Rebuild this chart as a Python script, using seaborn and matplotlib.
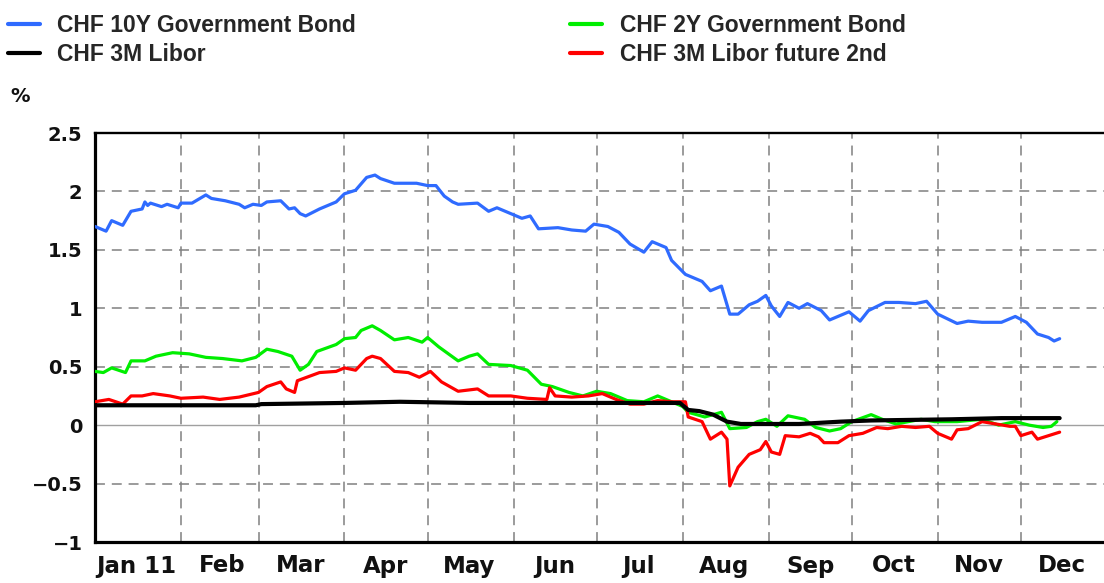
import matplotlib
matplotlib.use("Agg")
import matplotlib.pyplot as plt
import matplotlib.dates as mdates
from matplotlib.lines import Line2D
import numpy as np
import pandas as pd
import seaborn as sns

# ---------------- data ----------------
series_names = ["CHF 10Y Government Bond", "CHF 3M Libor",
                "CHF 2Y Government Bond", "CHF 3M Libor future 2nd"]
series_colors = ["#2f6bff", "#000000", "#00ee00", "#ff0000"]

bond10_dates = ["2011-01-01", "2011-01-05", "2011-01-07", "2011-01-11", "2011-01-14", "2011-01-18",
                "2011-01-19", "2011-01-20", "2011-01-21", "2011-01-25", "2011-01-27", "2011-01-31",
                "2011-02-01", "2011-02-05", "2011-02-10", "2011-02-12", "2011-02-17", "2011-02-22",
                "2011-02-24", "2011-02-27", "2011-03-02", "2011-03-04", "2011-03-09", "2011-03-12",
                "2011-03-14", "2011-03-16", "2011-03-18", "2011-03-23", "2011-03-29", "2011-04-01",
                "2011-04-05", "2011-04-09", "2011-04-12", "2011-04-14", "2011-04-19", "2011-04-27",
                "2011-05-01", "2011-05-04", "2011-05-07", "2011-05-10", "2011-05-12", "2011-05-19",
                "2011-05-23", "2011-05-26", "2011-05-31", "2011-06-04", "2011-06-07", "2011-06-10",
                "2011-06-17", "2011-06-22", "2011-06-27", "2011-06-30", "2011-07-05", "2011-07-09",
                "2011-07-13", "2011-07-18", "2011-07-21", "2011-07-26", "2011-07-28", "2011-08-02",
                "2011-08-08", "2011-08-11", "2011-08-15", "2011-08-18", "2011-08-21", "2011-08-25",
                "2011-08-28", "2011-08-31", "2011-09-02", "2011-09-05", "2011-09-08", "2011-09-12",
                "2011-09-15", "2011-09-20", "2011-09-23", "2011-09-30", "2011-10-04", "2011-10-07",
                "2011-10-13", "2011-10-18", "2011-10-24", "2011-10-28", "2011-11-01", "2011-11-08",
                "2011-11-12", "2011-11-17", "2011-11-24", "2011-11-29", "2011-12-03", "2011-12-07",
                "2011-12-11", "2011-12-13", "2011-12-15"]
bond10_values = [1.70, 1.66, 1.75, 1.71, 1.83, 1.85,
                 1.91, 1.88, 1.90, 1.87, 1.89, 1.86,
                 1.90, 1.90, 1.97, 1.94, 1.92, 1.89,
                 1.86, 1.89, 1.88, 1.91, 1.92, 1.85,
                 1.86, 1.81, 1.79, 1.85, 1.91, 1.98,
                 2.01, 2.12, 2.14, 2.11, 2.07, 2.07,
                 2.05, 2.05, 1.96, 1.91, 1.89, 1.90,
                 1.83, 1.86, 1.81, 1.77, 1.79, 1.68,
                 1.69, 1.67, 1.66, 1.72, 1.70, 1.65,
                 1.55, 1.48, 1.57, 1.52, 1.41, 1.29,
                 1.23, 1.15, 1.19, 0.95, 0.95, 1.03,
                 1.06, 1.11, 1.02, 0.93, 1.05, 1.00,
                 1.04, 0.98, 0.90, 0.97, 0.89, 0.98,
                 1.05, 1.05, 1.04, 1.06, 0.95, 0.87,
                 0.89, 0.88, 0.88, 0.93, 0.88, 0.78,
                 0.75, 0.72, 0.74]

bond2_dates = ["2011-01-01", "2011-01-04", "2011-01-07", "2011-01-12", "2011-01-14", "2011-01-19",
               "2011-01-23", "2011-01-29", "2011-02-04", "2011-02-10", "2011-02-16", "2011-02-23",
               "2011-02-28", "2011-03-04", "2011-03-08", "2011-03-13", "2011-03-16", "2011-03-19",
               "2011-03-22", "2011-03-29", "2011-04-01", "2011-04-05", "2011-04-07", "2011-04-11",
               "2011-04-14", "2011-04-19", "2011-04-24", "2011-04-29", "2011-05-01", "2011-05-05",
               "2011-05-12", "2011-05-16", "2011-05-19", "2011-05-23", "2011-05-31", "2011-06-06",
               "2011-06-11", "2011-06-15", "2011-06-21", "2011-06-26", "2011-07-01", "2011-07-06",
               "2011-07-12", "2011-07-18", "2011-07-23", "2011-07-27", "2011-08-01", "2011-08-03",
               "2011-08-09", "2011-08-15", "2011-08-18", "2011-08-24", "2011-08-28", "2011-08-31",
               "2011-09-04", "2011-09-08", "2011-09-14", "2011-09-18", "2011-09-23", "2011-09-27",
               "2011-10-01", "2011-10-08", "2011-10-12", "2011-10-17", "2011-10-26", "2011-10-31",
               "2011-11-08", "2011-11-17", "2011-11-23", "2011-11-29", "2011-12-04", "2011-12-09",
               "2011-12-12", "2011-12-14"]
bond2_values = [0.46, 0.45, 0.49, 0.45, 0.55, 0.55,
                0.59, 0.62, 0.61, 0.58, 0.57, 0.55,
                0.58, 0.65, 0.63, 0.59, 0.47, 0.52,
                0.63, 0.69, 0.74, 0.75, 0.81, 0.85,
                0.81, 0.73, 0.75, 0.71, 0.75, 0.67,
                0.55, 0.59, 0.61, 0.52, 0.51, 0.47,
                0.35, 0.33, 0.28, 0.25, 0.29, 0.27,
                0.21, 0.20, 0.25, 0.21, 0.16, 0.11,
                0.07, 0.11, -0.03, -0.02, 0.03, 0.05,
                -0.01, 0.08, 0.05, -0.02, -0.05, -0.03,
                0.03, 0.09, 0.05, 0.01, 0.05, 0.03,
                0.03, 0.05, 0.00, 0.03, 0.00, -0.02,
                -0.01, 0.03]

future_dates = ["2011-01-01", "2011-01-06", "2011-01-11", "2011-01-14", "2011-01-18", "2011-01-22",
                "2011-01-28", "2011-02-01", "2011-02-09", "2011-02-15", "2011-02-22", "2011-03-01",
                "2011-03-04", "2011-03-09", "2011-03-11", "2011-03-14", "2011-03-15", "2011-03-23",
                "2011-03-29", "2011-04-01", "2011-04-05", "2011-04-09", "2011-04-11", "2011-04-14",
                "2011-04-19", "2011-04-24", "2011-04-28", "2011-05-02", "2011-05-06", "2011-05-12",
                "2011-05-19", "2011-05-23", "2011-05-31", "2011-06-06", "2011-06-13", "2011-06-14",
                "2011-06-16", "2011-06-22", "2011-06-28", "2011-07-03", "2011-07-08", "2011-07-13",
                "2011-07-18", "2011-07-23", "2011-07-28", "2011-08-02", "2011-08-03", "2011-08-08",
                "2011-08-11", "2011-08-15", "2011-08-17", "2011-08-18", "2011-08-21", "2011-08-25",
                "2011-08-29", "2011-08-31", "2011-09-02", "2011-09-05", "2011-09-07", "2011-09-12",
                "2011-09-16", "2011-09-19", "2011-09-21", "2011-09-26", "2011-09-30", "2011-10-05",
                "2011-10-10", "2011-10-14", "2011-10-19", "2011-10-24", "2011-10-29", "2011-11-01",
                "2011-11-06", "2011-11-08", "2011-11-12", "2011-11-17", "2011-11-22", "2011-11-27",
                "2011-11-29", "2011-12-01", "2011-12-05", "2011-12-07", "2011-12-11", "2011-12-15"]
future_values = [0.20, 0.22, 0.18, 0.25, 0.25, 0.27,
                 0.25, 0.23, 0.24, 0.22, 0.24, 0.28,
                 0.33, 0.37, 0.31, 0.28, 0.38, 0.45,
                 0.46, 0.49, 0.47, 0.57, 0.59, 0.57,
                 0.46, 0.45, 0.41, 0.46, 0.37, 0.29,
                 0.31, 0.25, 0.25, 0.23, 0.22, 0.32,
                 0.25, 0.24, 0.25, 0.27, 0.22, 0.18,
                 0.18, 0.21, 0.20, 0.20, 0.07, 0.03,
                 -0.12, -0.06, -0.12, -0.52, -0.36, -0.25,
                 -0.21, -0.14, -0.23, -0.25, -0.09, -0.10,
                 -0.07, -0.10, -0.15, -0.15, -0.09, -0.07,
                 -0.02, -0.03, -0.01, -0.02, -0.01, -0.07,
                 -0.12, -0.04, -0.03, 0.03, 0.01, -0.01,
                 -0.01, -0.09, -0.06, -0.12, -0.09, -0.06]

libor_dates = ["2011-01-01", "2011-02-28", "2011-03-02", "2011-04-01", "2011-04-21", "2011-05-16",
               "2011-07-31", "2011-08-03", "2011-08-07", "2011-08-12", "2011-08-17", "2011-08-22",
               "2011-09-12", "2011-09-27", "2011-10-08", "2011-11-06", "2011-11-24", "2011-12-15"]
libor_values = [0.17, 0.17, 0.18, 0.19, 0.20, 0.19,
                0.19, 0.13, 0.12, 0.09, 0.03, 0.01,
                0.01, 0.03, 0.04, 0.05, 0.06, 0.06]

month_labels = ["Jan 11", "Feb", "Mar", "Apr", "May", "Jun",
                "Jul", "Aug", "Sep", "Oct", "Nov", "Dec"]
y_ticks = [-1, -0.5, 0, 0.5, 1, 1.5, 2, 2.5]
y_tick_labels = ["\u22121", "\u22120.5", "0", "0.5", "1", "1.5", "2", "2.5"]

# ---------------- frame ----------------
frames = []
for name, d, v in [(series_names[0], bond10_dates, bond10_values),
                   (series_names[1], libor_dates, libor_values),
                   (series_names[2], bond2_dates, bond2_values),
                   (series_names[3], future_dates, future_values)]:
    frames.append(pd.DataFrame({"date": pd.to_datetime(d), "value": v, "series": name}))
df = pd.concat(frames, ignore_index=True)

sns.set_style("white")
plt.rcParams["font.family"] = ["DejaVu Sans"]

W, H = 1104, 583
fig = plt.figure(figsize=(W / 100, H / 100), dpi=100)
ax = fig.add_axes([95 / W, 1 - 542 / H, (W - 95) / W, (542 - 133) / H])

draw_order = [series_names[0], series_names[2], series_names[3], series_names[1]]
line_widths = {series_names[0]: 2.3, series_names[1]: 3.0,
               series_names[2]: 2.3, series_names[3]: 2.3}
palette = dict(zip(series_names, series_colors))
for name in draw_order:
    sns.lineplot(data=df[df["series"] == name], x="date", y="value", color=palette[name],
                 linewidth=line_widths[name], ax=ax, legend=False, zorder=3)

# axes limits & grid
ax.set_xlim(pd.Timestamp("2011-01-01"), pd.Timestamp("2011-12-31"))
ax.set_ylim(-1, 2.5)
grid_kw = dict(color="#808080", linewidth=1.1, linestyle=(0, (6.5, 4.5)), zorder=1)
for yv in [-0.5, 0.5, 1, 1.5, 2]:
    ax.axhline(yv, **grid_kw)
month_starts = pd.date_range("2011-02-01", "2011-12-01", freq="MS")
for m in month_starts:
    ax.axvline(m, **grid_kw)
ax.axhline(0, color="#a0a0a0", linewidth=1.0, zorder=2)

ax.set_yticks(y_ticks)
ax.set_yticklabels(y_tick_labels)
mid_months = pd.date_range("2011-01-01", "2011-12-01", freq="MS") + pd.Timedelta(days=15)
ax.set_xticks(mid_months)
ax.set_xticklabels(month_labels)
ax.tick_params(axis="y", length=0, pad=9, labelsize=14)
ax.tick_params(axis="x", length=0, pad=9, labelsize=16.5)
for lab in ax.get_yticklabels() + ax.get_xticklabels():
    lab.set_fontweight("bold")
    lab.set_color("#111111")
ax.set_xlabel("")
ax.set_ylabel("")

for side in ["left", "bottom"]:
    ax.spines[side].set_linewidth(2.3)
    ax.spines[side].set_color("black")
ax.spines["top"].set_linewidth(1.7)
ax.spines["top"].set_color("black")
ax.spines["right"].set_visible(False)

# legend
handles = [Line2D([0], [0], color=c, linewidth=3) for c in series_colors]
fig.legend(handles, series_names, loc="upper left", bbox_to_anchor=(8 / W, 1 - 14 / H),
           ncol=2, frameon=False, borderpad=0, borderaxespad=0,
           handlelength=1.4, handletextpad=0.75, columnspacing=9.35, labelspacing=0.28,
           prop={"family": "Liberation Sans", "weight": "bold", "size": 16.5})

fig.text(10 / W, 1 - 97 / H, "%", ha="left", va="center", fontsize=14, fontweight="bold",
         color="#111111")

fig.savefig("out.png", dpi=100)
